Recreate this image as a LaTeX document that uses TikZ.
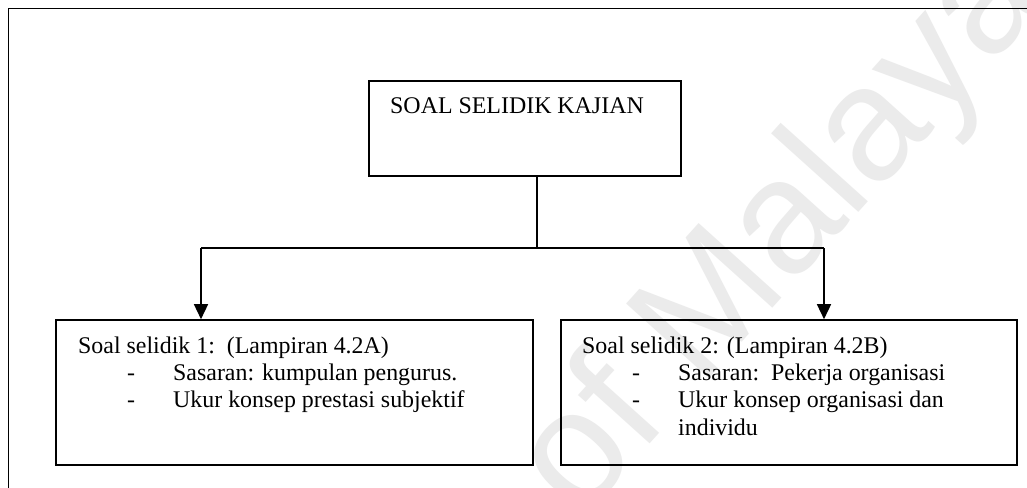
\documentclass[tikz,border=0pt]{standalone}
\usepackage{fontspec}
\setmainfont{Liberation Serif}
\newfontfamily\wmfont{Liberation Sans}
\usetikzlibrary{arrows.meta,fit}
\begin{document}
\begin{tikzpicture}[x=1pt,y=-1pt,
  box/.style={draw, line width=1.6pt, inner sep=0pt, rectangle},
  txt/.style={anchor=base west, inner sep=0pt, font=\fontsize{23.9}{27}\selectfont},
  link/.style={line width=1.5pt},
  arr/.style={line width=1.5pt, -{Triangle[width=14pt,length=15pt]}},
  mark wm/.style={rotate=48, anchor=base west, inner sep=0pt, text=black!8,
    font=\wmfont\fontsize{162}{162}\selectfont}]
\useasboundingbox (0,0) rectangle (1027,487);
\clip (0,0) rectangle (1027,487);
\fill[white] (0,0) rectangle (1027,487);

% faint watermark behind everything
\node[mark wm] (wm) at (580,522) {of Malaya};

% page frame
\draw[line width=1.7pt] (1040,8.5) -- (8.5,8.5) -- (8.5,500);

% boxes
\node[box, fit={(369,81) (681,176)}] (top) {};
\node[box, fit={(56,320) (533,465)}] (left) {};
\node[box, fit={(561,320) (1017,465)}] (right) {};

% texts
\node[txt] (ttop) at (390,113) {SOAL SELIDIK KAJIAN};

\node[txt] (l1) at (78,353) {Soal selidik 1:\ \ (Lampiran 4.2A)};
\node[txt] (l2d) at (127,380) {-};
\node[txt] (l2) at (173,380) {Sasaran: kumpulan pengurus.};
\node[txt] (l3d) at (127,407) {-};
\node[txt] (l3) at (173,407) {Ukur konsep prestasi subjektif};

\node[txt] (r1) at (582,353) {Soal selidik 2: (Lampiran 4.2B)};
\node[txt] (r2d) at (632,380) {-};
\node[txt] (r2) at (678,380) {Sasaran:\ \ Pekerja organisasi};
\node[txt] (r3d) at (632,407) {-};
\node[txt] (r3) at (678,407) {Ukur konsep organisasi dan};
\node[txt] (r4) at (678,435) {individu};

% connectors
\coordinate (j) at (537,248);
\coordinate (la) at (201,248);
\coordinate (ra) at (824,248);
\draw[link] (top.south -| j) -- (j);
\draw[link] (la) -- (ra);
\draw[arr] (la) -- (la |- left.north);
\draw[arr] (ra) -- (ra |- right.north);
\end{tikzpicture}
\end{document}
